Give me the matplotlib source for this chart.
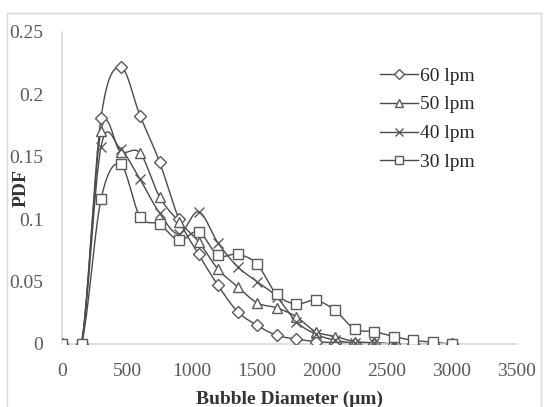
"""Bubble size PDF curves for four gas flow rates (Excel-style smoothed scatter)."""

import matplotlib

matplotlib.use("Agg")

import matplotlib.pyplot as plt
import numpy as np
from matplotlib.patches import Rectangle

# data
diameter = [0, 150, 300, 450, 600, 750, 900, 1050, 1200, 1350, 1500,
            1650, 1800, 1950, 2100, 2250, 2400, 2550, 2700, 2850, 3000]
pdf_60 = [0, 0, 0.181, 0.222, 0.183, 0.146, 0.100, 0.072, 0.047, 0.026, 0.015,
          0.007, 0.004, 0.002, 0.001, 0, 0, 0, 0, 0, 0]
pdf_50 = [0, 0, 0.171, 0.154, 0.153, 0.118, 0.098, 0.082, 0.060, 0.046, 0.033,
          0.029, 0.022, 0.010, 0.006, 0.002, 0.001, 0, 0, 0, 0]
pdf_40 = [0, 0, 0.158, 0.156, 0.132, 0.105, 0.088, 0.106, 0.081, 0.062, 0.050,
          0.038, 0.018, 0.008, 0.003, 0.001, 0.001, 0, 0, 0, 0]
pdf_30 = [0, 0, 0.116, 0.144, 0.102, 0.096, 0.083, 0.090, 0.071, 0.072, 0.064,
          0.040, 0.032, 0.035, 0.027, 0.012, 0.010, 0.006, 0.003, 0.0015, 0]

labels = ["60 lpm", "50 lpm", "40 lpm", "30 lpm"]
markers = ["D", "^", "x", "s"]
x_ticks = [0, 500, 1000, 1500, 2000, 2500, 3000, 3500]
y_ticks = [0, 0.05, 0.1, 0.15, 0.2, 0.25]
y_tick_labels = ["0", "0.05", "0.1", "0.15", "0.2", "0.25"]

LINE = "#4a4a4a"
MARK = "#5a5a5a"
GRID = "#d9d9d9"
TICK = "#595959"


def smooth(x, y, n=20):
    """Catmull-Rom curve through the points, like Excel's smoothed lines."""
    p = np.column_stack([x, y]).astype(float)
    p = np.vstack([p[0], p, p[-1]])
    t = np.linspace(0, 1, n, endpoint=False)[:, None]
    out = []
    for i in range(1, len(p) - 2):
        p0, p1, p2, p3 = p[i - 1], p[i], p[i + 1], p[i + 2]
        seg = 0.5 * ((2 * p1) + (-p0 + p2) * t
                     + (2 * p0 - 5 * p1 + 4 * p2 - p3) * t ** 2
                     + (-p0 + 3 * p1 - 3 * p2 + p3) * t ** 3)
        out.append(seg)
    out.append(p[-2][None, :])
    out = np.vstack(out)
    return out[:, 0], out[:, 1]


plt.rcParams.update({
    "font.family": ["Liberation Serif", "DejaVu Serif"],
    "font.size": 14,
})

fig = plt.figure(figsize=(5.47, 4.07), dpi=100)
ax = fig.add_axes([62 / 547, 1 - 344 / 407, (517 - 62) / 547, (344 - 32) / 407])

fig.patches.append(Rectangle((7 / 547, -0.05), (541 - 7) / 547, 1.05 - 13 / 407,
                             transform=fig.transFigure, fill=False,
                             edgecolor=GRID, linewidth=1))

series = [pdf_60, pdf_50, pdf_40, pdf_30]
for vals, lab, mk in zip(series, labels, markers):
    sx, sy = smooth(diameter, vals)
    ax.plot(sx, sy, color=LINE, linewidth=1.0, zorder=2)
    size = 6.5 if mk == "D" else 7.5
    ax.plot(diameter, vals, linestyle="none", marker=mk, markersize=size,
            markerfacecolor="white" if mk != "x" else MARK,
            markeredgecolor=MARK, markeredgewidth=1.0, zorder=3)
    # legend handle
    ax.plot([], [], color=LINE, linewidth=1.0, marker=mk, markersize=size * 0.8,
            markerfacecolor="white", markeredgecolor=MARK, label=lab)

ax.set_xlim(0, 3500)
ax.set_ylim(0, 0.25)
ax.set_xticks(x_ticks)
ax.set_yticks(y_ticks)
ax.set_yticklabels(y_tick_labels)
ax.tick_params(length=0, colors=TICK, labelsize=14)
ax.tick_params(axis="x", pad=14)
ax.tick_params(axis="y", pad=13.5)

for side in ["top", "right"]:
    ax.spines[side].set_visible(False)
for side in ["left", "bottom"]:
    ax.spines[side].set_color(GRID)
    ax.spines[side].set_linewidth(1.2)

ax.set_xlabel("Bubble Diameter (\u03bcm)", fontweight="bold", color="#333333",
              fontsize=14)
ax.set_ylabel("PDF", fontweight="bold", color="#333333", fontsize=14)
ax.xaxis.set_label_coords(0.5, -0.15)
ax.yaxis.set_label_coords(-0.072, 0.5)

handles, labs = ax.get_legend_handles_labels()
leg = fig.legend(handles, labs, loc="upper left",
                 bbox_to_anchor=(380 / 547, 1 - 67 / 407), frameon=False,
                 borderpad=0, borderaxespad=0, handlelength=1.95,
                 handletextpad=0.1, labelspacing=0.58, fontsize=14)
for t in leg.get_texts():
    t.set_color("#262626")

fig.savefig("out.png", dpi=100)
